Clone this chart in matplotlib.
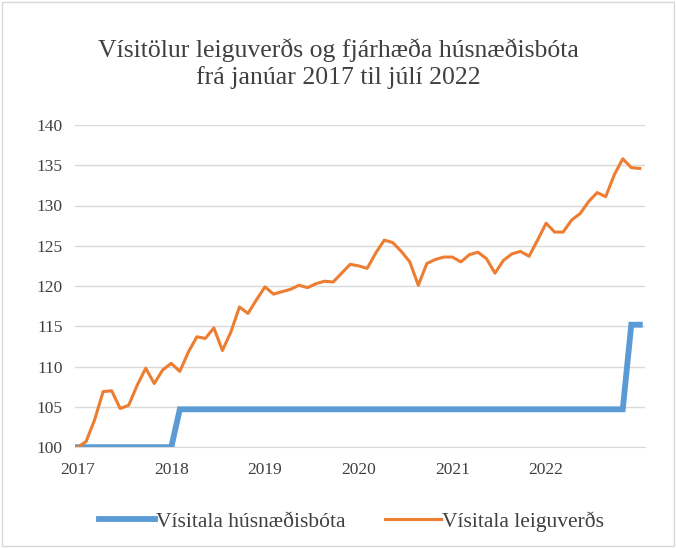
import matplotlib
matplotlib.use('Agg')
import matplotlib.pyplot as plt
from matplotlib.patches import Rectangle

plt.rcParams['font.family'] = ['Liberation Serif', 'DejaVu Serif']

# gögn: mánaðarleg vísitala, jan 2017 - júl 2022
ar = ['2017', '2018', '2019', '2020', '2021', '2022']
leiguverd = [100.0, 100.7, 103.4, 106.9, 107.0, 104.8, 105.2, 107.7, 109.8, 107.9, 109.6, 110.4,
             109.4, 111.8, 113.7, 113.5, 114.8, 112.0, 114.3, 117.4, 116.6, 118.3, 119.9, 119.0,
             119.3, 119.6, 120.1, 119.8, 120.3, 120.6, 120.5, 121.6, 122.7, 122.5, 122.2, 124.1,
             125.7, 125.4, 124.3, 123.0, 120.1, 122.8, 123.3, 123.6, 123.6, 123.0, 123.9, 124.2,
             123.4, 121.6, 123.2, 124.0, 124.3, 123.7, 125.7, 127.8, 126.7, 126.7, 128.2, 129.0,
             130.5, 131.6, 131.1, 133.8, 135.8, 134.7, 134.6]
husnaedisbaetur = [100.0] * 12 + [104.7] * 53 + [115.2] * 2

manudir = list(range(len(leiguverd)))

fig = plt.figure(figsize=(6.76, 5.48), dpi=100)
ax = fig.add_axes([0.111, 0.184, 0.843, 0.588])

ax.plot(manudir, husnaedisbaetur, color='#5B9BD5', linewidth=4.2, solid_joinstyle='miter',
        label='Vísitala húsnæðisbóta')
ax.plot(manudir, leiguverd, color='#ED7D31', linewidth=2.2, label='Vísitala leiguverðs')

ax.set_ylim(100, 140)
ax.set_yticks(range(100, 141, 5))
ax.set_xlim(-0.3, 66.6)
# Excel setti ártalsmerkin með 11 mánaða bili
ax.set_xticks([11 * i for i in range(len(ar))])
ax.set_xticklabels(ar)

ax.grid(axis='y', color='#D9D9D9', linewidth=1)
ax.set_axisbelow(True)
for s in ['top', 'right', 'left']:
    ax.spines[s].set_visible(False)
ax.spines['bottom'].set_color('#D9D9D9')
ax.tick_params(length=0, labelsize=12.5, colors='#404040')
ax.tick_params(axis='y', pad=9)
ax.tick_params(axis='x', pad=11)

fig.text(0.5, 0.884, 'Vísitölur leiguverðs og fjárhæða húsnæðisbóta\nfrá janúar 2017 til júlí 2022',
         ha='center', va='center', fontsize=18.5, color='#404040', linespacing=1.25)

fig.legend(loc='lower center', bbox_to_anchor=(0.52, -0.006), ncol=2, frameon=False,
           fontsize=15.5, handlelength=2.6, handletextpad=0.05, columnspacing=1.8,
           labelcolor='#404040')

# rammi utan um myndina
fig.patches.append(Rectangle((0.003, 0.003), 0.994, 0.994, transform=fig.transFigure,
                             fill=False, edgecolor='#D9D9D9', linewidth=1))

fig.savefig('out.png', dpi=100)
